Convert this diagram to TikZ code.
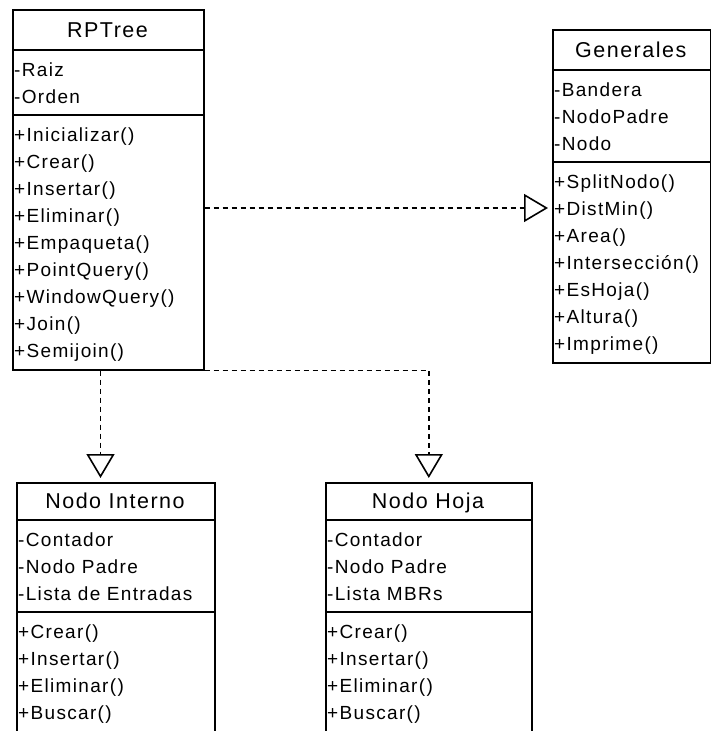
\documentclass[tikz,border=0pt]{standalone}
\usepackage{fontspec}
\setmainfont{Liberation Sans}[LetterSpace=7]
\usetikzlibrary{arrows.meta}

\tikzset{
  x=1pt, y=-1pt,
  classbox/.style={draw, line width=1.6pt, inner sep=0pt, anchor=north west},
  classrule/.style={line width=1.6pt},
  classtitle/.style={anchor=base, inner sep=0pt, font=\fontsize{21.5}{24}\selectfont},
  member/.style={anchor=base west, inner sep=0pt, font=\fontsize{19}{27}\selectfont},
  realize/.style={line width=1.6pt, dash pattern=on 5pt off 4pt,
    -{Triangle[open, length=24pt, width=28pt]}, shorten >=4pt},
}

% UML class box: name, left, top, width, title height, title, attributes, operations
\newcommand\umlclass[8]{%
  \foreach \t [count=\i] in {#7}{\xdef\umlnattr{\i}}%
  \foreach \t [count=\i] in {#8}{\xdef\umlnmeth{\i}}%
  \pgfmathsetmacro\umlsepA{#3+#5}%
  \pgfmathsetmacro\umlsepB{\umlsepA+27*\umlnattr+11}%
  \pgfmathsetmacro\umlbot{\umlsepB+27*\umlnmeth+11}%
  \pgfmathsetmacro\umlht{\umlbot-#3}%
  \node[classbox, minimum width=#4pt, minimum height=\umlht pt] (#1) at (#2,#3) {};
  \node[classtitle] (#1-title) at ({#2+#4/2},{#3+#5/2+7.5}) {#6};
  \draw[classrule] (#2,\umlsepA) -- ++(#4,0);
  \draw[classrule] (#2,\umlsepB) -- ++(#4,0);
  \foreach \t [count=\i] in {#7}
    \node[member] (#1-a\i) at ({#2+2},{\umlsepA+26.5+27*(\i-1)}) {\t};
  \foreach \t [count=\i] in {#8}
    \node[member] (#1-m\i) at ({#2+2},{\umlsepB+26.5+27*(\i-1)}) {\t};
}

\begin{document}
\begin{tikzpicture}
\useasboundingbox (0,0) rectangle (711,731);
\clip (0,0) rectangle (711,731);

\umlclass{rptree}{12}{9}{191}{41}{RPTree}
  {-Raiz,-Orden}
  {+Inicializar(),+Crear(),+Insertar(),+Eliminar(),+Empaqueta(),+PointQuery(),+WindowQuery(),+Join(),+Semijoin()}

\umlclass{generales}{552}{29}{157.5}{41}{Generales}
  {-Bandera,-NodoPadre,-Nodo}
  {+SplitNodo(),+DistMin(),+Area(),+Intersección(),+EsHoja(),+Altura(),+Imprime()}

\umlclass{interno}{16}{482}{198}{38}{Nodo Interno}
  {-Contador,-Nodo Padre,-Lista de Entradas}
  {+Crear(),+Insertar(),+Eliminar(),+Buscar()}

\umlclass{hoja}{325}{482}{206}{38}{Nodo Hoja}
  {-Contador,-Nodo Padre,-Lista MBRs}
  {+Crear(),+Insertar(),+Eliminar(),+Buscar()}

% realization links
\draw[realize] (rptree.east |- 0,208) -- (generales.west |- 0,208);
\draw[realize] (rptree.south -| 100.5,0) -- (interno.north -| 100.5,0);
\draw[realize] (rptree.south east) -| (hoja.north);
\end{tikzpicture}
\end{document}
